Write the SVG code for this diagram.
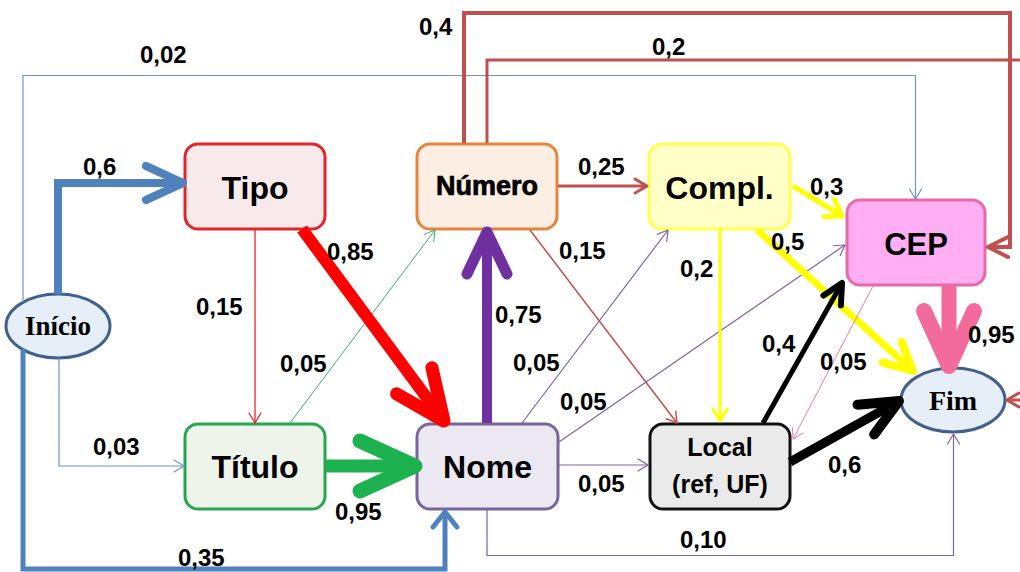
<svg xmlns="http://www.w3.org/2000/svg" width="1020" height="572" viewBox="0 0 1020 572">
<style>
.box{stroke-width:3}
.nt{font-family:"Liberation Sans",Arial,sans-serif;font-weight:bold;text-anchor:middle;fill:#000}
.et{font-family:"Liberation Serif","Times New Roman",serif;font-weight:bold;text-anchor:middle;fill:#000}
.lb{font-family:"Liberation Sans",Arial,sans-serif;font-weight:bold;font-size:24px;fill:#000}
.c{fill:none;stroke-linejoin:miter}
.mk{fill:none;stroke-linecap:round;stroke-linejoin:round}
</style>
<defs>
<marker id="mBlueL" markerUnits="userSpaceOnUse" orient="auto" markerWidth="100" markerHeight="100" viewBox="-80 -50 100 100" refX="0" refY="0"><path class="mk" d="M-37,-17 L0,0 L-37,17" stroke="#4f81bd" stroke-width="8"/></marker>
<marker id="mBlueM" markerUnits="userSpaceOnUse" orient="auto" markerWidth="100" markerHeight="100" viewBox="-80 -50 100 100" refX="0" refY="0"><path class="mk" d="M-15,-12 L0,0 L-15,12" stroke="#4f81bd" stroke-width="5"/></marker>
<marker id="mBlueT" markerUnits="userSpaceOnUse" orient="auto" markerWidth="100" markerHeight="100" viewBox="-80 -50 100 100" refX="0" refY="0"><path class="mk" d="M-10,-6 L0,0 L-10,6" stroke="#6f93c4" stroke-width="1.2"/></marker>
<marker id="mRedXL" markerUnits="userSpaceOnUse" orient="auto" markerWidth="100" markerHeight="100" viewBox="-80 -50 100 100" refX="0" refY="0"><path class="mk" d="M-50,-22 L0,0 L-50,22" stroke="#ff0000" stroke-width="13"/></marker>
<marker id="mRedT" markerUnits="userSpaceOnUse" orient="auto" markerWidth="100" markerHeight="100" viewBox="-80 -50 100 100" refX="0" refY="0"><path class="mk" d="M-10,-6 L0,0 L-10,6" stroke="#e3242b" stroke-width="1.3"/></marker>
<marker id="mGreenXL" markerUnits="userSpaceOnUse" orient="auto" markerWidth="100" markerHeight="100" viewBox="-80 -50 100 100" refX="0" refY="0"><path class="mk" d="M-55,-25 L0,0 L-55,25" stroke="#1db14f" stroke-width="15"/></marker>
<marker id="mGreenT" markerUnits="userSpaceOnUse" orient="auto" markerWidth="100" markerHeight="100" viewBox="-80 -50 100 100" refX="0" refY="0"><path class="mk" d="M-10,-6 L0,0 L-10,6" stroke="#3fae6c" stroke-width="1"/></marker>
<marker id="mPurpleXL" markerUnits="userSpaceOnUse" orient="auto" markerWidth="100" markerHeight="100" viewBox="-80 -50 100 100" refX="0" refY="0"><path class="mk" d="M-42,-20 L0,0 L-42,20" stroke="#7030a0" stroke-width="11"/></marker>
<marker id="mPurpleT" markerUnits="userSpaceOnUse" orient="auto" markerWidth="100" markerHeight="100" viewBox="-80 -50 100 100" refX="0" refY="0"><path class="mk" d="M-10,-6 L0,0 L-10,6" stroke="#8064a2" stroke-width="1.2"/></marker>
<marker id="mDredM" markerUnits="userSpaceOnUse" orient="auto" markerWidth="100" markerHeight="100" viewBox="-80 -50 100 100" refX="0" refY="0"><path class="mk" d="M-12,-7 L0,0 L-12,7" stroke="#c0504d" stroke-width="3"/></marker>
<marker id="mDredL" markerUnits="userSpaceOnUse" orient="auto" markerWidth="100" markerHeight="100" viewBox="-80 -50 100 100" refX="0" refY="0"><path class="mk" d="M-20,-10 L0,0 L-20,10" stroke="#c0504d" stroke-width="4"/></marker>
<marker id="mDredT" markerUnits="userSpaceOnUse" orient="auto" markerWidth="100" markerHeight="100" viewBox="-80 -50 100 100" refX="0" refY="0"><path class="mk" d="M-10,-6 L0,0 L-10,6" stroke="#c0504d" stroke-width="1.5"/></marker>
<marker id="mYelS" markerUnits="userSpaceOnUse" orient="auto" markerWidth="100" markerHeight="100" viewBox="-80 -50 100 100" refX="0" refY="0"><path class="mk" d="M-15,-10 L0,0 L-15,10" stroke="#ffff00" stroke-width="5"/></marker>
<marker id="mYelL" markerUnits="userSpaceOnUse" orient="auto" markerWidth="100" markerHeight="100" viewBox="-80 -50 100 100" refX="0" refY="0"><path class="mk" d="M-28,-14 L0,0 L-28,14" stroke="#ffff00" stroke-width="8"/></marker>
<marker id="mYelM" markerUnits="userSpaceOnUse" orient="auto" markerWidth="100" markerHeight="100" viewBox="-80 -50 100 100" refX="0" refY="0"><path class="mk" d="M-12,-7 L0,0 L-12,7" stroke="#ffff00" stroke-width="3"/></marker>
<marker id="mBlkM" markerUnits="userSpaceOnUse" orient="auto" markerWidth="100" markerHeight="100" viewBox="-80 -50 100 100" refX="0" refY="0"><path class="mk" d="M-20,-10 L0,0 L-20,10" stroke="#000" stroke-width="6"/></marker>
<marker id="mBlkL" markerUnits="userSpaceOnUse" orient="auto" markerWidth="100" markerHeight="100" viewBox="-80 -50 100 100" refX="0" refY="0"><path class="mk" d="M-38,-17 L0,0 L-38,17" stroke="#000" stroke-width="10"/></marker>
<marker id="mPinkXL" markerUnits="userSpaceOnUse" orient="auto" markerWidth="100" markerHeight="100" viewBox="-80 -50 100 100" refX="0" refY="0"><path class="mk" d="M-55,-25 L0,0 L-55,25" stroke="#f26b9c" stroke-width="16"/></marker>
<marker id="mPinkT" markerUnits="userSpaceOnUse" orient="auto" markerWidth="100" markerHeight="100" viewBox="-80 -50 100 100" refX="0" refY="0"><path class="mk" d="M-10,-6 L0,0 L-10,6" stroke="#e07fb3" stroke-width="1"/></marker>
</defs>
<rect width="1020" height="572" fill="#ffffff"/>

<g id="nodes">
<g id="inicio"><ellipse cx="58" cy="326" rx="52" ry="32" fill="#e6eef8" stroke="#41618a" class="box"/><text class="et" x="58" y="335" font-size="27">In&#237;cio</text></g>
<g id="tipo"><rect x="185" y="144" width="140" height="85" rx="13" fill="#f8eaea" stroke="#e3242b" class="box"/><text class="nt" x="255" y="199" font-size="32">Tipo</text></g>
<g id="numero"><rect x="417" y="144" width="140" height="85" rx="13" fill="#fdeee3" stroke="#e5843c" class="box"/><text class="nt" x="487" y="195" font-size="27" stroke="#000" stroke-width="0.7">N&#250;mero</text></g>
<g id="compl"><rect x="649" y="144" width="141" height="85" rx="13" fill="#ffffc8" stroke="#ffff4d" class="box"/><text class="nt" x="719.5" y="199" font-size="32">Compl.</text></g>
<g id="cep"><rect x="847" y="200" width="138" height="85" rx="13" fill="#ffaef3" stroke="#e66aa6" class="box"/><text class="nt" x="916" y="255" font-size="31">CEP</text></g>
<g id="titulo"><rect x="185" y="424" width="140" height="85" rx="13" fill="#eef4ea" stroke="#27a650" class="box"/><text class="nt" x="255" y="478" font-size="32">T&#237;tulo</text></g>
<g id="nome"><rect x="417" y="424" width="141" height="85" rx="13" fill="#ece8f2" stroke="#7a659b" class="box"/><text class="nt" x="487.5" y="478" font-size="32">Nome</text></g>
<g id="local"><rect x="650" y="424" width="140" height="85" rx="13" fill="#eaeaea" stroke="#111111" class="box"/><text class="nt" x="720" y="456" font-size="25">Local</text><text class="nt" x="720" y="493" font-size="25">(ref, UF)</text></g>
<g id="fim"><ellipse cx="953" cy="400" rx="52" ry="32" fill="#e6eef8" stroke="#41618a" class="box"/><text class="et" x="953" y="410" font-size="28">Fim</text></g>
</g>

<g id="connectors">
<path class="c" d="M23,302 V75.5 H915.5 V199" stroke="#6f93c4" stroke-width="1.2" marker-end="url(#mBlueT)"/>
<path class="c" d="M464,143 V13 H1010 V247 H988" stroke="#c0504d" stroke-width="4" marker-end="url(#mDredL)"/>
<path class="c" d="M487,143 V60 H1030 V400 H1007" stroke="#c0504d" stroke-width="3" marker-end="url(#mDredM)"/>
<path class="c" d="M58,294 V183 H183" stroke="#4f81bd" stroke-width="8" marker-end="url(#mBlueL)"/>
<path class="c" d="M23,349 V569 H445 V512" stroke="#4f81bd" stroke-width="5" marker-end="url(#mBlueM)"/>
<path class="c" d="M59,358 V466 H184" stroke="#6f93c4" stroke-width="1.2" marker-end="url(#mBlueT)"/>
<path class="c" d="M255,230 V423" stroke="#e3242b" stroke-width="1.3" marker-end="url(#mRedT)"/>
<path class="c" d="M290,423 L435,230" stroke="#3fae6c" stroke-width="1" marker-end="url(#mGreenT)"/>
<path class="c" d="M302,229 L444,421" stroke="#ff0000" stroke-width="12" marker-end="url(#mRedXL)"/>
<path class="c" d="M326,466 L415,466" stroke="#1db14f" stroke-width="13" marker-end="url(#mGreenXL)"/>
<path class="c" d="M487,423 L487,232" stroke="#7030a0" stroke-width="10" marker-end="url(#mPurpleXL)"/>
<path class="c" d="M558,186 L647,186" stroke="#c0504d" stroke-width="3" marker-end="url(#mDredM)"/>
<path class="c" d="M530,230 L677,423" stroke="#c0504d" stroke-width="1.5" marker-end="url(#mDredT)"/>
<path class="c" d="M522,423 L668,230" stroke="#8064a2" stroke-width="1.2" marker-end="url(#mPurpleT)"/>
<path class="c" d="M559,442 L845,245" stroke="#8064a2" stroke-width="1.2" marker-end="url(#mPurpleT)"/>
<path class="c" d="M559,465 H648" stroke="#8064a2" stroke-width="1.2" marker-end="url(#mPurpleT)"/>
<path class="c" d="M487,510 V555.5 H953.5 V434" stroke="#8064a2" stroke-width="1.2" marker-end="url(#mPurpleT)"/>
<path class="c" d="M793,186 L842,216" stroke="#ffff00" stroke-width="5" marker-end="url(#mYelS)"/>
<path class="c" d="M757,230 L913,371" stroke="#ffff00" stroke-width="7" marker-end="url(#mYelL)"/>
<path class="c" d="M720,230 V421" stroke="#ffff00" stroke-width="3" marker-end="url(#mYelM)"/>
<path class="c" d="M873,286 L793,439" stroke="#e07fb3" stroke-width="1" marker-end="url(#mPinkT)"/>
<path class="c" d="M949,286 V366" stroke="#f26b9c" stroke-width="15" marker-end="url(#mPinkXL)"/>
<path class="c" d="M763,423 L842,283" stroke="#000000" stroke-width="5" marker-end="url(#mBlkM)"/>
<path class="c" d="M790,462 L899,401" stroke="#000000" stroke-width="9" marker-end="url(#mBlkL)"/>
</g>

<g id="labels">
<text class="lb" x="140" y="63">0,02</text>
<text class="lb" x="419" y="35">0,4</text>
<text class="lb" x="652" y="55">0,2</text>
<text class="lb" x="83" y="175">0,6</text>
<text class="lb" x="578" y="175">0,25</text>
<text class="lb" x="810" y="195">0,3</text>
<text class="lb" x="327" y="260">0,85</text>
<text class="lb" x="559" y="259">0,15</text>
<text class="lb" x="771" y="250">0,5</text>
<text class="lb" x="680" y="277">0,2</text>
<text class="lb" x="196" y="315">0,15</text>
<text class="lb" x="495" y="323">0,75</text>
<text class="lb" x="280" y="372">0,05</text>
<text class="lb" x="513" y="371">0,05</text>
<text class="lb" x="560" y="410">0,05</text>
<text class="lb" x="762" y="352">0,4</text>
<text class="lb" x="820" y="370">0,05</text>
<text class="lb" x="968" y="343">0,95</text>
<text class="lb" x="93" y="455">0,03</text>
<text class="lb" x="335" y="520">0,95</text>
<text class="lb" x="578" y="492">0,05</text>
<text class="lb" x="828" y="473">0,6</text>
<text class="lb" x="680" y="548">0,10</text>
<text class="lb" x="178" y="566">0,35</text>
</g>
</svg>
